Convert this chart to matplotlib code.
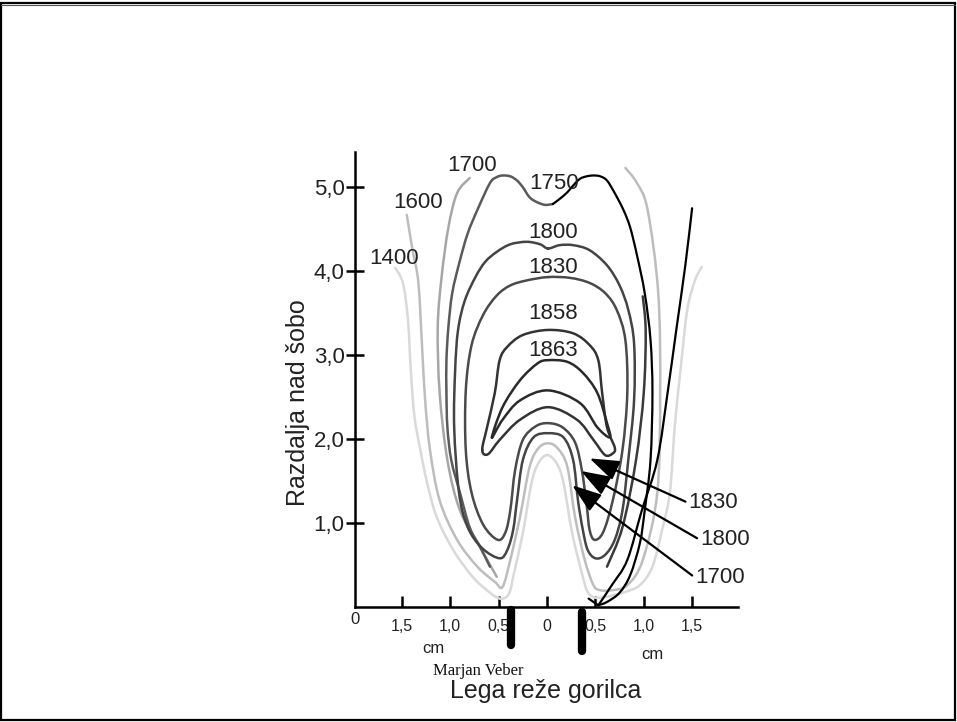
import numpy as np
import matplotlib
matplotlib.use("Agg")
import matplotlib.pyplot as plt
from matplotlib.patches import Rectangle, PathPatch
from matplotlib.path import Path

plt.rcParams['font.family'] = ['Liberation Sans', 'DejaVu Sans']

# isotherms, x in cm from burner axis, y = height above nozzle
iso_1400 = [(-1.57, 4.04), (-1.49, 3.86), (-1.44, 3.45), (-1.42, 3.06), (-1.40, 2.67),
            (-1.37, 2.26), (-1.31, 1.87), (-1.24, 1.48), (-1.14, 1.07), (-0.97, 0.68),
            (-0.77, 0.36), (-0.59, 0.17), (-0.49, 0.10), (-0.42, 0.12), (-0.38, 0.20),
            (-0.35, 0.36), (-0.25, 0.88), (-0.16, 1.48), (-0.09, 1.71), (0.00, 1.81),
            (0.10, 1.71), (0.17, 1.48), (0.26, 0.88), (0.37, 0.36), (0.42, 0.18),
            (0.50, 0.11), (0.65, 0.13), (0.81, 0.18), (0.96, 0.26), (1.09, 0.48),
            (1.19, 0.92), (1.27, 1.36), (1.32, 2.14), (1.38, 2.82), (1.45, 3.54),
            (1.53, 3.89), (1.60, 4.05)]
iso_1600 = [(-1.45, 4.67), (-1.39, 4.25), (-1.33, 3.86), (-1.29, 3.06), (-1.26, 2.46),
            (-1.21, 1.87), (-1.11, 1.27), (-0.93, 0.80), (-0.72, 0.48), (-0.54, 0.30),
            (-0.46, 0.24), (-0.38, 0.56), (-0.28, 1.07), (-0.18, 1.67), (-0.09, 1.89),
            (0.01, 1.95), (0.11, 1.89), (0.21, 1.67), (0.29, 1.07), (0.39, 0.56),
            (0.48, 0.26), (0.55, 0.20), (0.67, 0.20), (0.83, 0.26), (0.99, 0.56),
            (1.14, 1.36), (1.17, 2.55), (1.15, 3.74), (1.04, 4.73), (0.93, 5.05),
            (0.81, 5.23)]
iso_1700 = [(-0.80, 5.11), (-0.93, 4.93), (-1.02, 4.52), (-1.09, 3.93), (-1.13, 3.33),
            (-1.11, 2.55), (-1.03, 1.75), (-0.90, 1.15), (-0.69, 0.71), (-0.52, 0.36)]
iso_1750_left = [(-0.59, 0.48), (-0.69, 0.71), (-0.80, 0.95), (-0.90, 1.36), (-0.99, 1.75),
                 (-1.03, 2.14), (-1.04, 2.55), (-1.04, 2.94), (-1.02, 3.33), (-0.98, 3.74),
                 (-0.90, 4.13), (-0.82, 4.45), (-0.72, 4.73), (-0.59, 5.05), (-0.52, 5.12),
                 (-0.46, 5.14), (-0.38, 5.13), (-0.31, 5.08), (-0.25, 5.00), (-0.18, 4.88),
                 (-0.10, 4.82), (-0.02, 4.79), (0.06, 4.80)]
iso_1750_right = [(0.62, 0.48), (0.78, 0.95), (0.92, 1.75), (1.00, 2.55), (1.02, 3.29),
                  (0.99, 3.70)]
edge_black = [(0.06, 4.80), (0.13, 4.86), (0.21, 4.94), (0.27, 5.02), (0.34, 5.10),
              (0.41, 5.13), (0.48, 5.14), (0.55, 5.13), (0.62, 5.08), (0.70, 4.93),
              (0.79, 4.73), (0.86, 4.52), (0.93, 4.19), (1.01, 3.74), (1.07, 3.18),
              (1.09, 2.55), (1.07, 1.75), (1.01, 1.15), (0.96, 0.76), (0.86, 0.38),
              (0.75, 0.17), (0.62, 0.06), (0.53, 0.02)]
edge_hook = [(0.43, 0.10), (0.53, 0.02)]
edge_rising = [(0.53, 0.02), (0.67, 0.26), (0.83, 0.56), (0.98, 1.15), (1.14, 1.75),
               (1.25, 2.58), (1.34, 3.33), (1.43, 4.07), (1.50, 4.75)]
iso_1800 = [(0.01, 4.27), (-0.07, 4.32), (-0.21, 4.35), (-0.38, 4.32), (-0.52, 4.23),
            (-0.64, 4.11), (-0.74, 3.93), (-0.85, 3.65), (-0.92, 3.30), (-0.95, 2.82),
            (-0.96, 2.14), (-0.91, 1.36), (-0.82, 0.95), (-0.67, 0.70), (-0.49, 0.58),
            (-0.41, 0.68), (-0.35, 0.92), (-0.31, 1.27), (-0.25, 1.75), (-0.14, 2.02),
            (0.01, 2.07), (0.17, 2.02), (0.27, 1.75), (0.32, 1.27), (0.37, 0.92),
            (0.42, 0.68), (0.50, 0.58), (0.60, 0.62), (0.70, 0.80), (0.78, 1.15),
            (0.84, 1.75), (0.90, 2.46), (0.90, 3.14), (0.84, 3.54), (0.75, 3.83),
            (0.62, 4.07), (0.44, 4.25), (0.27, 4.31), (0.13, 4.31), (0.01, 4.27)]
iso_1830 = [(0.01, 3.93), (-0.21, 3.89), (-0.38, 3.83), (-0.52, 3.71), (-0.66, 3.48),
            (-0.78, 3.12), (-0.84, 2.58), (-0.84, 1.87), (-0.78, 1.36), (-0.66, 0.98),
            (-0.51, 0.80), (-0.43, 0.89), (-0.38, 1.15), (-0.33, 1.63), (-0.25, 1.99),
            (-0.12, 2.15), (0.01, 2.19), (0.16, 2.14), (0.29, 1.96), (0.36, 1.63),
            (0.41, 1.21), (0.44, 0.92), (0.49, 0.80), (0.58, 0.89), (0.68, 1.27),
            (0.78, 1.87), (0.83, 2.55), (0.81, 3.18), (0.72, 3.54), (0.60, 3.74),
            (0.44, 3.86), (0.24, 3.92), (0.01, 3.93)]
iso_1858 = [(-0.67, 1.87), (-0.62, 2.14), (-0.54, 2.55), (-0.49, 2.94), (-0.41, 3.10),
            (-0.25, 3.24), (0.01, 3.30), (0.27, 3.26), (0.44, 3.12), (0.53, 2.94),
            (0.57, 2.55), (0.62, 2.14), (0.70, 1.90), (0.68, 1.83), (0.60, 1.81),
            (0.48, 1.99), (0.31, 2.23), (0.01, 2.38), (-0.28, 2.23), (-0.49, 1.99),
            (-0.61, 1.82), (-0.67, 1.87)]
iso_1863 = [(-0.57, 2.02), (-0.46, 2.38), (-0.28, 2.70), (-0.10, 2.90), (0.01, 2.94),
            (0.21, 2.92), (0.37, 2.79), (0.52, 2.55), (0.62, 2.19), (0.65, 2.02),
            (0.52, 2.14), (0.34, 2.43), (0.01, 2.58), (-0.28, 2.46), (-0.46, 2.23),
            (-0.57, 2.02)]

iso_labels = ['1400', '1600', '1700', '1750', '1800', '1830', '1858', '1863']
iso_label_pos = [(-1.58, 4.15), (-1.33, 4.82), (-0.77, 5.26), (0.07, 5.05),
                 (0.06, 4.46), (0.06, 4.04), (0.06, 3.50), (0.06, 3.06)]

arrow_labels = ['1830', '1800', '1700']
arrow_tips = [(0.44, 1.77), (0.35, 1.62), (0.26, 1.45)]
arrow_text = [(1.46, 1.24), (1.58, 0.80), (1.53, 0.35)]

yticks = [1, 2, 3, 4, 5]
ytick_labels = ['1,0', '2,0', '3,0', '4,0', '5,0']
xticks = [-1.5, -1.0, -0.5, 0, 0.5, 1.0, 1.5]
xtick_labels = ['1,5', '1,0', '0,5', '0', '0,5', '1,0', '1,5']
electrodes = [(-0.37, -0.04, -0.45), (0.36, -0.06, -0.53)]


def curve_path(pts):
    """catmull-rom through the traced points, as cubic bezier segments"""
    p = np.array(pts, dtype=float)
    n = len(p)
    closed = n > 3 and np.allclose(p[0], p[-1])
    verts = [p[0]]
    codes = [Path.MOVETO]
    for i in range(n - 1):
        if i > 0:
            p0 = p[i - 1]
        else:
            p0 = p[-2] if closed else p[0]
        if i + 2 < n:
            p3 = p[i + 2]
        else:
            p3 = p[1] if closed else p[-1]
        p1, p2 = p[i], p[i + 1]
        verts += [p1 + (p2 - p0) / 6, p2 - (p3 - p1) / 6, p2]
        codes += [Path.CURVE4] * 3
    return Path(verts, codes)


def draw(ax, pts, color, lw=1.8):
    ax.add_patch(PathPatch(curve_path(pts), fill=False, ec=color, lw=lw,
                           joinstyle='round', capstyle='round', clip_on=False, zorder=3))


fig = plt.figure(figsize=(9.57, 7.22), dpi=100)
ax = fig.add_axes([0.3710, 0.1593, 0.4002, 0.6302])
ax.set_xlim(-1.985, 1.975)
ax.set_ylim(0, 5.42)

draw(ax, iso_1400, '#d9d9d9')
draw(ax, iso_1600, '#bdbdbd')
draw(ax, iso_1700, '#a6a6a6')
draw(ax, iso_1750_left, '#5a5a5a')
draw(ax, iso_1750_right, '#3a3a3a')
draw(ax, edge_black, '#000000', 1.6)
draw(ax, edge_hook, '#000000', 1.6)
draw(ax, edge_rising, '#000000', 1.6)
draw(ax, iso_1800, '#444444')
draw(ax, iso_1830, '#4a4a4a')
draw(ax, iso_1858, '#333333')
draw(ax, iso_1863, '#2a2a2a')

for lab, (x, y) in zip(iso_labels, iso_label_pos):
    ax.text(x, y, lab, fontsize=16, ha='center', va='center', color='#222222', zorder=4)

for lab, tip, txt in zip(arrow_labels, arrow_tips, arrow_text):
    ax.annotate(lab, xy=tip, xytext=txt, fontsize=16, ha='left', va='center',
                color='#222222', annotation_clip=False,
                arrowprops=dict(arrowstyle='-|>,head_length=1.0,head_width=0.35',
                                mutation_scale=18, lw=1.6, color='k',
                                shrinkA=0, shrinkB=0, relpos=(0, 0.5)))

for x, y0, y1 in electrodes:
    ax.plot([x, x], [y0, y1], color='k', lw=6, solid_capstyle='round', clip_on=False)

for side in ['top', 'right']:
    ax.spines[side].set_visible(False)
for side in ['left', 'bottom']:
    ax.spines[side].set_linewidth(1.8)

ax.set_yticks(yticks)
ax.set_yticklabels(ytick_labels)
ax.tick_params(axis='y', direction='inout', length=13, width=1.8, labelsize=16, pad=1,
               labelcolor='#222222')
ax.set_xticks(xticks)
ax.set_xticklabels(xtick_labels)
ax.tick_params(axis='x', direction='in', length=8, width=1.8, labelsize=11.5, pad=9,
               labelcolor='#222222')

ax.text(-1.985, -0.06, '0', fontsize=12, ha='center', va='top', color='#222222')
ax.text(-1.18, -0.49, 'cm', fontsize=12, ha='center', va='center', color='#222222')
ax.text(1.09, -0.57, 'cm', fontsize=12, ha='center', va='center', color='#222222')
ax.text(-0.01, -1.0, 'Lega reže gorilca', fontsize=18, ha='center', va='center',
        color='#222222')
ax.text(-0.71, -0.76, 'Marjan Veber', fontsize=12, ha='center', va='center',
        family='Liberation Serif', color='#111111')
ax.text(-2.57, 2.43, 'Razdalja nad šobo', fontsize=18, rotation=90, ha='center',
        va='center', color='#222222')

fig.add_artist(Rectangle((0.0015, 0.003), 0.996, 0.993, transform=fig.transFigure,
                         fill=False, lw=1.6, ec='k'))
fig.add_artist(plt.Line2D([0.0015, 0.9975], [0.9925, 0.9925], transform=fig.transFigure,
                          color='#555555', lw=0.8))

fig.savefig('out.png', dpi=100)
